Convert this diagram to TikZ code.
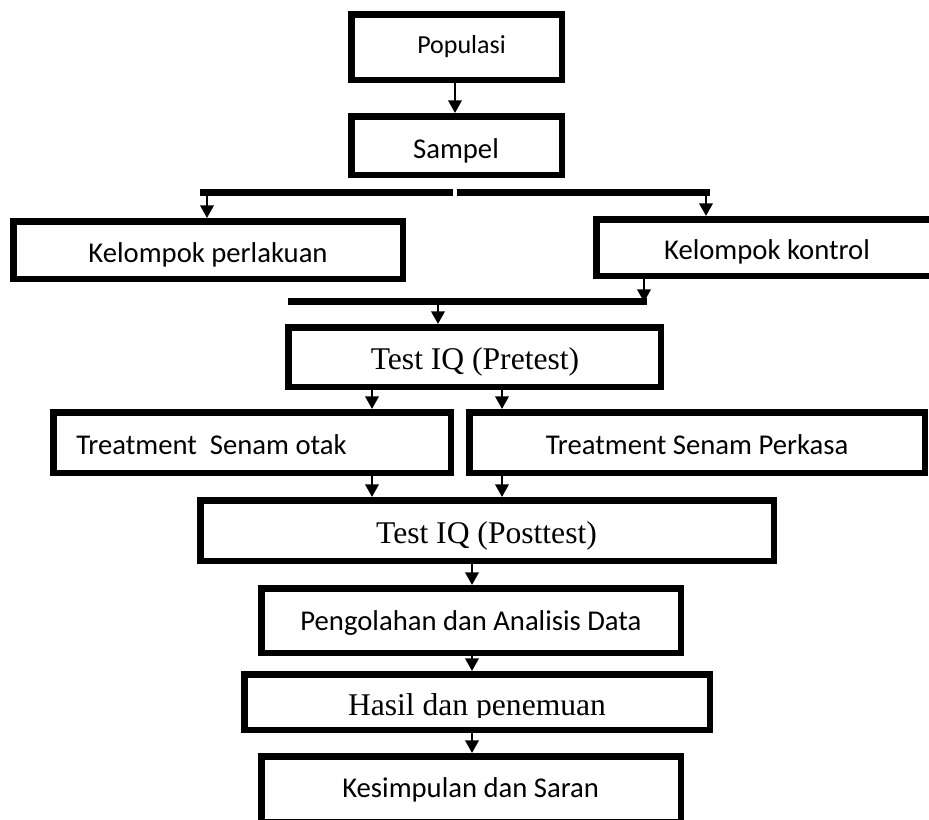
\documentclass[tikz,border=0pt]{standalone}
\usepackage{fontspec}
\setmainfont{Liberation Serif}
\newfontfamily\calfont{Carlito}
\usetikzlibrary{arrows.meta}
\tikzset{
  box/.style={draw=black, line width=4.875pt, inner sep=0pt, rectangle},
  bx/.style 2 args={box, minimum width={#1*0.75pt}, minimum height={#2*0.75pt}},
  ctxt/.style={inner sep=0pt, anchor=base, font=\calfont\fontsize{21.5pt}{24pt}\selectfont},
  ctxtsmall/.style={inner sep=0pt, anchor=base, font=\calfont\fontsize{19.5pt}{22pt}\selectfont},
  ttxt/.style={inner sep=0pt, anchor=base, font=\fontsize{23.7pt}{26pt}\selectfont},
  arr/.style={line width=1.9pt, -{Triangle[width=10pt,length=9.5pt]}},
  bus/.style={line width=5.25pt, line cap=butt},
}
\begin{document}
\begin{tikzpicture}[x=0.75pt, y=-0.75pt]
\useasboundingbox (0,0) rectangle (929,819);
\begin{scope}
\clip (0,0) rectangle (929,819);
% boxes
\node[bx={210.5}{65.5}] (pop) at (456.5,47) {};
\node[bx={210.5}{58.5}] (sam) at (456.5,145.5) {};
\node[bx={389.5}{57.5}] (perl) at (208,250) {};
\node[bx={341.5}{56.5}] (kont) at (767,247.5) {};
\node[bx={372.5}{59.5}] (pre) at (474.5,357) {};
\node[bx={397.5}{60.5}] (otak) at (252,442.5) {};
\node[bx={455.5}{60.5}] (perk) at (697,442.5) {};
\node[bx={573.5}{60.5}] (post) at (487,530.5) {};
\node[bx={419.5}{64.5}] (peng) at (471,620.5) {};
\node[bx={465.5}{55.5}] (has) at (477,702) {};
\node[bx={419.5}{65.5}] (kes) at (471,789) {};
\end{scope}
% texts
\node[ctxtsmall] (tpop) at (461.5,53) {Populasi};
\node[ctxt] (tsam) at (456,158) {Sampel};
\node[ctxt] (tperl) at (208,262) {Kelompok perlakuan};
\node[ctxt] (tkont) at (767,259) {Kelompok kontrol};
\node[ttxt] (tpre) at (475,369) {Test IQ (Pretest)};
\node[ctxt, anchor=base west] (totak) at (76,454) {Treatment\ \ Senam otak};
\node[ctxt] (tperk) at (697,454) {Treatment Senam Perkasa};
\node[ttxt] (tpost) at (486.5,543) {Test IQ (Posttest)};
\node[ctxt] (tpeng) at (471,630) {Pengolahan dan Analisis Data};
\begin{scope}
\clip (250,680) rectangle (700,717);
\node[ttxt] (thas) at (477,715) {Hasil dan penemuan};
\end{scope}
\node[ctxt] (tkes) at (470.7,797) {Kesimpulan dan Saran};
% bus lines
\coordinate (b1a) at (200,192.5);
\coordinate (b1b) at (453,192.5);
\coordinate (b1c) at (457,192.5);
\coordinate (b1d) at (710,192.5);
\draw[bus] (b1a) -- (b1b);
\draw[bus] (b1c) -- (b1d);
\coordinate (b2a) at (288,301);
\coordinate (b2b) at (647,301);
\draw[bus] (b2a) -- (b2b);
% connector x positions
\coordinate (xa) at (455,0);
\coordinate (l1) at (207,189);
\coordinate (r1) at (706,189);
\coordinate (k2) at (644,302);
\coordinate (p2) at (438,301);
\coordinate (xL) at (372,0);
\coordinate (xR) at (502,0);
\coordinate (xM) at (472,0);
% arrows
\draw[arr] (pop.south -| xa) -- (sam.north -| xa);
\draw[arr] (l1) -- (perl.north -| l1);
\draw[arr] (r1) -- (kont.north -| r1);
\draw[arr] (kont.south -| k2) -- (k2);
\draw[arr] (p2) -- (pre.north -| p2);
\draw[arr] (pre.south -| xL) -- (otak.north -| xL);
\draw[arr] (pre.south -| xR) -- (perk.north -| xR);
\draw[arr] (otak.south -| xL) -- (post.north -| xL);
\draw[arr] (perk.south -| xR) -- (post.north -| xR);
\draw[arr] (post.south -| xM) -- (peng.north -| xM);
\draw[arr] (peng.south -| xM) -- (has.north -| xM);
\draw[arr] (has.south -| xM) -- (kes.north -| xM);
\end{tikzpicture}
\end{document}
